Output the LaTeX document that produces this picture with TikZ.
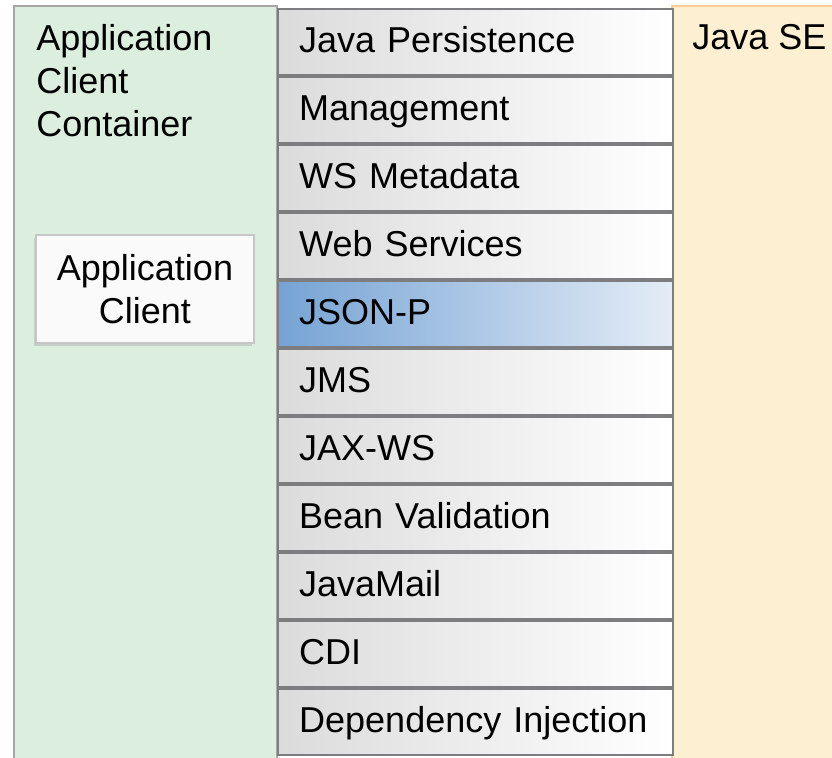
\documentclass[tikz,border=0pt]{standalone}
\usepackage{fontspec}
\setmainfont{Liberation Sans}
\usepackage{xcolor}
\usepackage{tikz}
\usetikzlibrary{positioning, shadows}
\definecolor{contgreen}{RGB}{220,238,221}
\definecolor{separe}{RGB}{253,240,210}
\definecolor{rowline}{RGB}{125,125,128}
\definecolor{jsonblue}{RGB}{118,163,212}

\begin{document}
\begin{tikzpicture}[
        x=0.5pt, y=-0.5pt,
        font=\fontsize{18}{21.5}\selectfont,
        node distance=0pt,
        container/.style={draw=gray!70, line width=0.8pt, fill=contgreen},
        platform/.style={draw=orange!40, line width=0.6pt, fill=separe},
        api/.style={rectangle, draw=rowline, line width=1.2pt, left color=gray!28, right color=white,
            text width=176.5pt, inner xsep=10.5pt, inner ysep=0pt, align=left,
            minimum height=32.8pt, text height=14pt, text depth=3pt},
        hilite/.style={api, left color=jsonblue, right color=jsonblue!20},
        client/.style={rectangle, draw=gray!45, line width=0.6pt, fill=white!96!gray, align=center,
            minimum width=109pt, minimum height=54pt,
            drop shadow={shadow xshift=-1pt, shadow yshift=-1.5pt, fill=gray!60}}
    ]
    \useasboundingbox (0,0) rectangle (832,758);

    % Containers
    \fill[container] (14,6) rectangle (277,764);
    \fill[platform] (672,6) rectangle (840,764);
    \draw[container, fill=none] (14,764) -- (14,6) -- (277,6);
    \draw[platform, fill=none] (672,764) -- (672,6) -- (840,6);

    \node[anchor=north west, inner sep=0pt, align=left] (ACC) at (36,24) {Application\\Client\\Container};
    \node[anchor=base west, inner sep=0pt] (JavaSE) at (692,50) {Java SE};
    \node[client] (AppClient) at (145,289) {Application\\Client};

    % API stack
    \node[api, anchor=north west] (Persistence) at (277,8) {Java Persistence};
    \node[api, below=of Persistence] (Management) {Management};
    \node[api, below=of Management] (WSMeta) {WS Metadata};
    \node[api, below=of WSMeta] (WebServices) {Web Services};
    \node[hilite, below=of WebServices] (JSONP) {JSON-P};
    \node[api, below=of JSONP] (JMS) {JMS};
    \node[api, below=of JMS] (JAXWS) {JAX-WS};
    \node[api, below=of JAXWS] (BeanVal) {Bean Validation};
    \node[api, below=of BeanVal] (JavaMail) {JavaMail};
    \node[api, below=of JavaMail] (CDI) {CDI};
    \node[api, below=of CDI] (DepInj) {Dependency Injection};

\end{tikzpicture}
\end{document}
